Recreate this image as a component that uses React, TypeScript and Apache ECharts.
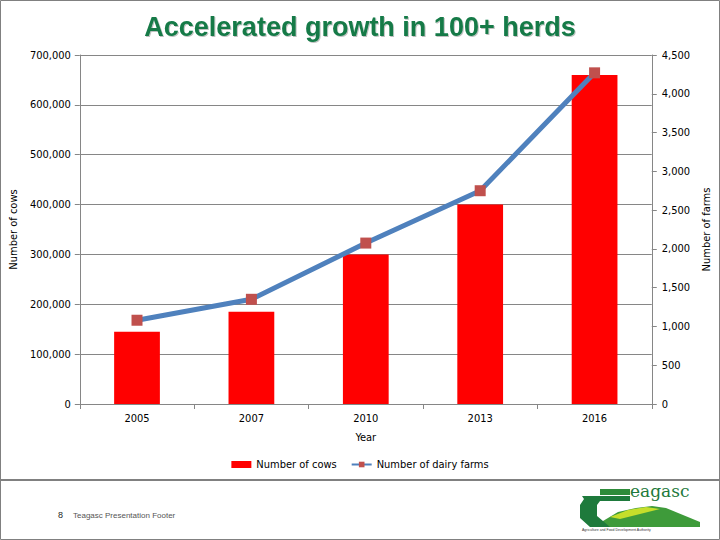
import React, { useEffect, useRef } from "react";
import * as echarts from "echarts";

const years = ["2005", "2007", "2010", "2013", "2016"];
const cows = [145000, 185000, 300000, 400000, 660000];
const farms = [1080, 1350, 2075, 2750, 4270];
const titleText = "Accelerated growth in 100+ herds";
const footerText = "Teagasc Presentation Footer";
const slideNumber = "8";

const axisFont = "'Liberation Sans Narrow', 'DejaVu Sans Condensed', 'Open Sans', Arial, sans-serif";

export default function App() {
  const ref = useRef<HTMLDivElement>(null);
  useEffect(() => {
    if (!ref.current) return;
    const chart = echarts.init(ref.current, null, { renderer: "svg" });
    const fmt = (v: number) => v.toLocaleString("en-US");
    chart.setOption({
      animation: false,
      backgroundColor: "#ffffff",
      title: {
        text: titleText,
        left: "center",
        top: 8,
        textStyle: {
          fontFamily: "Arial, 'Liberation Sans', sans-serif",
          fontSize: 27,
          fontWeight: "bold",
          color: "#137A47",
          textShadowColor: "rgba(0,0,0,0.25)",
          textShadowBlur: 1,
          textShadowOffsetX: 1,
          textShadowOffsetY: 1,
        },
      },
      legend: {
        bottom: 65,
        left: "center",
        itemGap: 14,
        itemWidth: 20,
        itemHeight: 7,
        textStyle: { fontFamily: axisFont, fontSize: 11, color: "#000" },
        data: [
          { name: "Number of cows", icon: "rect" },
          { name: "Number of dairy farms" },
        ],
      },
      grid: { left: 78, right: 68, top: 55, bottom: 136 },
      xAxis: {
        type: "category",
        data: years,
        name: "Year",
        nameLocation: "middle",
        nameGap: 28,
        nameTextStyle: { fontFamily: axisFont, fontSize: 11, color: "#000" },
        axisLine: { lineStyle: { color: "#868686", width: 1 } },
        axisTick: { show: true, alignWithLabel: false, length: 5, lineStyle: { color: "#868686" } },
        axisLabel: { fontFamily: axisFont, fontSize: 11, color: "#000", margin: 9 },
      },
      yAxis: [
        {
          type: "value",
          min: 0,
          max: 700000,
          interval: 100000,
          name: "Number of cows",
          nameLocation: "middle",
          nameGap: 53,
          nameTextStyle: { fontFamily: axisFont, fontSize: 11, color: "#000" },
          axisLine: { show: true, lineStyle: { color: "#868686" } },
          axisTick: { show: true, length: 5, lineStyle: { color: "#868686" } },
          axisLabel: { fontFamily: axisFont, fontSize: 11, color: "#000", margin: 9, formatter: fmt },
          splitLine: { show: true, lineStyle: { color: "#868686", width: 1 } },
        },
        {
          type: "value",
          min: 0,
          max: 4500,
          interval: 500,
          name: "Number of farms",
          nameLocation: "middle",
          nameGap: 46,
          nameTextStyle: { fontFamily: axisFont, fontSize: 11, color: "#000" },
          axisLine: { show: true, lineStyle: { color: "#868686" } },
          axisTick: { show: true, length: 5, lineStyle: { color: "#868686" } },
          axisLabel: { fontFamily: axisFont, fontSize: 11, color: "#000", margin: 10, formatter: fmt },
          splitLine: { show: false },
        },
      ],
      series: [
        {
          name: "Number of cows",
          type: "bar",
          data: cows,
          barWidth: "40%",
          itemStyle: { color: "#FF0000" },
          yAxisIndex: 0,
        },
        {
          name: "Number of dairy farms",
          type: "line",
          data: farms,
          yAxisIndex: 1,
          symbol: "rect",
          symbolSize: 11,
          lineStyle: { color: "#4F81BD", width: 5 },
          itemStyle: { color: "#C0504D" },
        },
      ],
      graphic: [
        { type: "rect", shape: { x: 0.5, y: 0.5, width: 719, height: 539 }, style: { fill: "none", stroke: "#808080", lineWidth: 1 }, silent: true },
        { type: "line", shape: { x1: 0, y1: 480, x2: 720, y2: 480 }, style: { stroke: "#808080", lineWidth: 2 } },
        { type: "text", left: 58, top: 510, style: { text: slideNumber, fontFamily: "Arial, sans-serif", fontSize: 9, fill: "#222" } },
        { type: "text", left: 73, top: 511, style: { text: footerText, fontFamily: "'Liberation Sans Narrow', Arial, sans-serif", fontSize: 8, fill: "#555" } },
        // logo
        { type: "polygon", shape: { points: [[600, 489], [630, 489], [630, 495], [600, 495]] }, style: { fill: "#2E8B3A" } },
        { type: "polygon", shape: { points: [[582, 496], [630, 496], [630, 501], [600, 501], [597, 505], [597, 516], [603, 521], [640, 521], [620, 527], [590, 527], [580, 518], [580, 505], [584, 499]] }, style: { fill: "#1E7A3C" } },
        { type: "polygon", shape: { points: [[603, 521], [618, 512], [636, 508], [652, 506], [666, 508], [700, 522], [700, 527], [610, 527]] }, style: { fill: "#3E9B3A" } },
        { type: "polygon", shape: { points: [[610, 517], [628, 510], [646, 507], [660, 509], [640, 514], [620, 519]] }, style: { fill: "#C5DE2B" } },
        { type: "text", left: 630, top: 482, style: { text: "eagasc", fontFamily: "'DejaVu Serif', serif", fontSize: 17, fill: "#1E7A3C" } },
        { type: "text", left: 582, top: 528, style: { text: "Agriculture and Food Development Authority", fontFamily: "Arial, sans-serif", fontSize: 3.5, fill: "#333" } },
      ],
    });
    return () => chart.dispose();
  }, []);
  return <div ref={ref} style={{ width: 720, height: 540, position: "absolute", left: 0, top: 0 }} />;
}
